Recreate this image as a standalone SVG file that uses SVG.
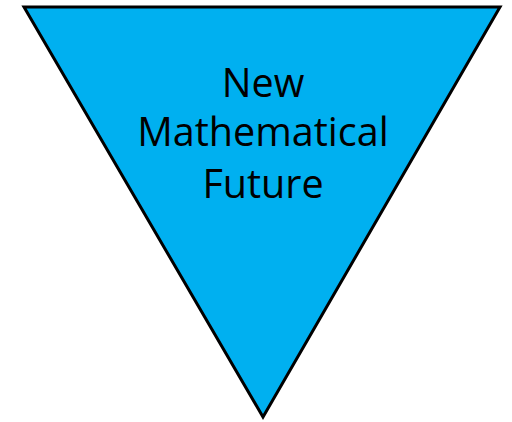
<svg xmlns="http://www.w3.org/2000/svg" width="512" height="422" viewBox="0 0 512 422">
<style>
.shape{fill:#00B0F0;stroke:#000;stroke-width:3;stroke-linejoin:miter}
.label{font-family:"Open Sans","Noto Sans",sans-serif;font-size:39.5px;fill:#000;text-anchor:middle}
</style>
<rect width="512" height="422" fill="#fff"/>
<g id="triangle">
<polygon class="shape" points="24,7 500,7 263,417"/>
<text class="label" x="263" y="97">New</text>
<text class="label" x="263" y="146">Mathematical</text>
<text class="label" x="263" y="198">Future</text>
</g>
</svg>
